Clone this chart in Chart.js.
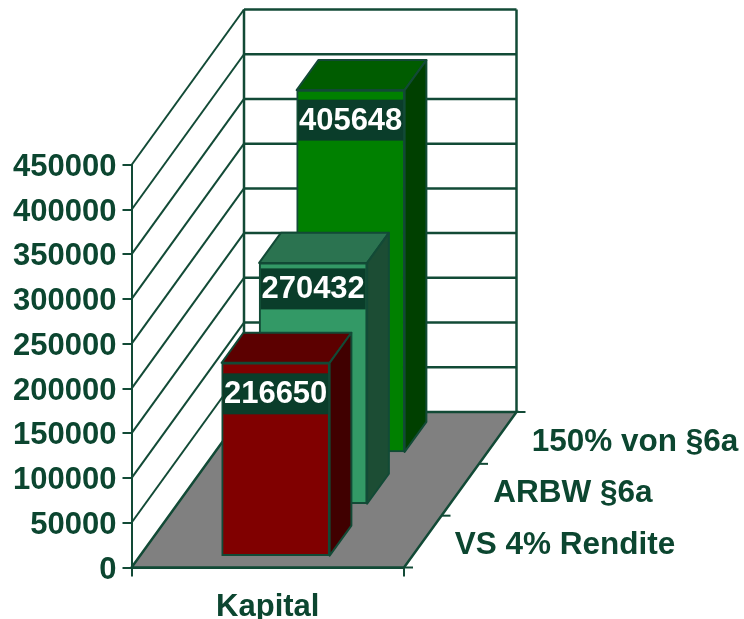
<!DOCTYPE html>
<html>
<head>
<meta charset="utf-8">
<title>Kapital</title>
<script src="https://cdn.jsdelivr.net/npm/chart.js@4"></script>
<style>
  html, body { margin: 0; padding: 0; background: #fff; }
  canvas { display: block; }
</style>
</head>
<body>
<canvas id="grafico" width="744" height="619"></canvas>
<script>
const categories = ["Kapital"];
const seriesNames = ["VS 4% Rendite", "ARBW §6a", "150% von §6a"];
const seriesValues = [216650, 270432, 405648];
const yTicks = [0, 50000, 100000, 150000, 200000, 250000, 300000, 350000, 400000, 450000];

const frontColors = ["#800000", "#339966", "#008000"];
const sideColors = ["#400000", "#1c4d34", "#004000"];
const topColors = ["#5c0000", "#2b7350", "#005c00"];
const labelDrop = [31, 26, 30];

const inkColor = "#0c4630";
const lineColor = "#124a36";
const labelFont = "bold 31px 'Liberation Sans', Arial, sans-serif";
const nameFont = "bold 31.5px 'Liberation Sans', Arial, sans-serif";

// how far the back of the box sits from the front plane
const wallDx = 112.5;
const wallDy = 155.5;
const slotGap = 0.21;
const barDepth = 0.58;

function depthShift(d) {
  return { x: d / seriesNames.length * wallDx, y: -d / seriesNames.length * wallDy };
}

function line(ctx, x1, y1, x2, y2) {
  ctx.beginPath();
  ctx.moveTo(x1, y1);
  ctx.lineTo(x2, y2);
  ctx.stroke();
}

function poly(ctx, pts, fill) {
  ctx.beginPath();
  pts.forEach((p, i) => i ? ctx.lineTo(p[0], p[1]) : ctx.moveTo(p[0], p[1]));
  ctx.closePath();
  ctx.fillStyle = fill;
  ctx.fill();
  ctx.stroke();
}

const box3d = {
  id: "box3d",

  beforeDatasetsDraw(chart) {
    const ctx = chart.ctx;
    const y = chart.scales.y;
    const { left, right, bottom } = chart.chartArea;
    const back = depthShift(seriesNames.length);

    ctx.save();
    ctx.strokeStyle = lineColor;

    // walls: one slanted and one flat line per tick
    yTicks.forEach(v => {
      const py = y.getPixelForValue(v);
      ctx.lineWidth = 2;
      if (v > 0) line(ctx, left, py, left + back.x, py + back.y);
      ctx.lineWidth = 2.5;
      if (v > 0) line(ctx, left + back.x, py + back.y, right + back.x, py + back.y);
    });
    const topY = y.getPixelForValue(yTicks[yTicks.length - 1]) + back.y;
    ctx.lineWidth = 2.5;
    line(ctx, left + back.x, topY, left + back.x, bottom + back.y);
    line(ctx, right + back.x, topY, right + back.x, bottom + back.y);

    // floor
    poly(ctx, [
      [left, bottom],
      [right, bottom],
      [right + back.x, bottom + back.y],
      [left + back.x, bottom + back.y]
    ], "#808080");

    // ticks along the depth edge
    ctx.lineWidth = 2;
    seriesNames.forEach((name, i) => {
      const s = depthShift(i + 1);
      line(ctx, right + s.x, bottom + s.y, right + s.x + 9, bottom + s.y);
    });
    line(ctx, right, bottom, right + 9, bottom);
    ctx.restore();
  },

  beforeDatasetDraw(chart, args) {
    const ctx = chart.ctx;
    const i = args.index;
    const bar = args.meta.data[0];
    const front = depthShift(i + slotGap);
    const rear = depthShift(i + slotGap + barDepth);
    const x1 = bar.x - bar.width / 2 + front.x;
    const x2 = bar.x + bar.width / 2 + front.x;
    const yTop = bar.y + front.y;
    const yBase = bar.base + front.y;
    const ox = rear.x - front.x;
    const oy = rear.y - front.y;

    ctx.save();
    ctx.strokeStyle = lineColor;
    ctx.lineWidth = 2;
    ctx.lineJoin = "round";
    poly(ctx, [[x1, yTop], [x2, yTop], [x2 + ox, yTop + oy], [x1 + ox, yTop + oy]], topColors[i]);
    poly(ctx, [[x2, yTop], [x2 + ox, yTop + oy], [x2 + ox, yBase + oy], [x2, yBase]], sideColors[i]);
    ctx.restore();

    // the library draws the front face, moved back to its depth slot
    ctx.save();
    ctx.translate(front.x, front.y);
  },

  afterDatasetDraw(chart) {
    chart.ctx.restore();
  },

  afterDatasetsDraw(chart) {
    const ctx = chart.ctx;
    const { right, bottom } = chart.chartArea;

    ctx.save();
    ctx.textBaseline = "middle";
    ctx.font = labelFont;

    chart.getSortedVisibleDatasetMetas().forEach(meta => {
      const i = meta.index;
      const bar = meta.data[0];
      const s = depthShift(i + slotGap);
      const cx = bar.x + s.x;
      const cy = bar.y + s.y + labelDrop[i];
      ctx.fillStyle = "#0a3d2a";
      ctx.fillRect(cx - 52.5, cy - 20.5, 105, 41);
      ctx.fillStyle = "#ffffff";
      ctx.textAlign = "center";
      ctx.fillText(String(seriesValues[i]), cx, cy + 1);
    });

    // series names along the floor's right edge
    ctx.font = nameFont;
    ctx.fillStyle = inkColor;
    ctx.textAlign = "left";
    seriesNames.forEach((name, i) => {
      const s = depthShift(i + 0.5);
      ctx.fillText(name, right + s.x + 32 + i, bottom + s.y + 4);
    });
    ctx.restore();
  }
};

new Chart(document.getElementById("grafico"), {
  type: "bar",
  data: {
    labels: categories,
    datasets: seriesNames.map((name, i) => ({
      label: name,
      data: [seriesValues[i]],
      backgroundColor: frontColors[i],
      borderColor: lineColor,
      borderWidth: 2,
      borderSkipped: false,
      barThickness: 108,
      grouped: false,
      clip: false
    }))
  },
  options: {
    responsive: false,
    animation: false,
    layout: { padding: { left: 0, top: 165, right: 340, bottom: 0 } },
    plugins: { legend: { display: false }, tooltip: { enabled: false } },
    scales: {
      x: {
        afterFit: s => { s.height = 51.5; },
        grid: { drawOnChartArea: false, color: lineColor, tickLength: 9, lineWidth: 2 },
        border: { color: lineColor, width: 2 },
        ticks: {
          color: inkColor,
          font: { family: "'Liberation Sans', Arial, sans-serif", weight: "bold", size: 31 },
          padding: 12
        }
      },
      y: {
        min: 0,
        max: 450000,
        afterFit: s => { s.width = 131.5; },
        afterBuildTicks: s => { s.ticks = yTicks.map(v => ({ value: v })); },
        grid: { drawOnChartArea: false, color: lineColor, tickLength: 9, lineWidth: 2 },
        border: { color: lineColor, width: 2 },
        ticks: {
          color: inkColor,
          // the empty first line pushes each label a little below its tick
          font: { family: "'Liberation Sans', Arial, sans-serif", weight: "bold", size: 31, lineHeight: "5px" },
          padding: 6,
          callback: v => ["", String(v)]
        }
      }
    }
  },
  plugins: [box3d]
});
</script>
</body>
</html>
